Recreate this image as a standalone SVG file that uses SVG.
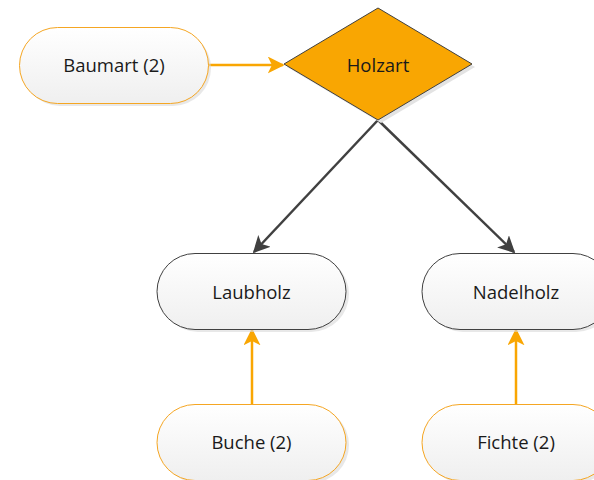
<svg xmlns="http://www.w3.org/2000/svg" width="594" height="480" viewBox="0 0 594 480">
<defs>
<linearGradient id="g" x1="0" y1="0" x2="0" y2="1">
<stop offset="0" stop-color="#ffffff"/>
<stop offset="1" stop-color="#efefef"/>
</linearGradient>
<marker id="ao" viewBox="0 0 10 10" refX="9" refY="5" markerWidth="17" markerHeight="17" orient="auto" markerUnits="userSpaceOnUse">
<path d="M0,0 L10,5 L0,10 L2.5,5 z" fill="#F9A602"/>
</marker>
<marker id="ad" viewBox="0 0 10 10" refX="9" refY="5" markerWidth="17" markerHeight="17" orient="auto" markerUnits="userSpaceOnUse">
<path d="M0,0 L10,5 L0,10 L2.5,5 z" fill="#404040"/>
</marker>
</defs>
<style>
.sh{fill:#d9d9d9;opacity:0.6}
.no{fill:url(#g);stroke:#F5A623;stroke-width:1}
.nd{fill:url(#g);stroke:#404040;stroke-width:1}
.t{font-family:"Open Sans","Liberation Sans",Arial,sans-serif;font-size:18.5px;fill:#1a1a1a;text-anchor:middle;dominant-baseline:central}
.co{stroke:#F9A602;stroke-width:2.5;fill:none}
.cd{stroke:#404040;stroke-width:2.5;fill:none}
</style>
<g id="connectors">
<line class="co" x1="208" y1="65" x2="283" y2="65" marker-end="url(#ao)"/>
<line class="cd" x1="378" y1="120" x2="254" y2="252" marker-end="url(#ad)"/>
<line class="cd" x1="378" y1="120" x2="514" y2="252" marker-end="url(#ad)"/>
<line class="co" x1="252" y1="404" x2="252" y2="330" marker-end="url(#ao)"/>
<line class="co" x1="516" y1="404" x2="516" y2="330" marker-end="url(#ao)"/>
</g>
<g id="baumart">
<rect class="sh" x="22" y="30" width="189" height="76" rx="38"/>
<rect class="no" x="19.5" y="27.5" width="189" height="76" rx="38"/>
<text class="t" x="114" y="64">Baumart (2)</text>
</g>
<g id="holzart">
<polygon points="381,11 475,67 381,123 287,67" fill="#e3e3e3"/>
<polygon points="378,8 472,64 378,120 284,64" fill="#F9A602" stroke="#404040" stroke-width="1"/>
<text class="t" x="378" y="64">Holzart</text>
</g>
<g id="laubholz">
<rect class="sh" x="160" y="256" width="189" height="76" rx="38"/>
<rect class="nd" x="157" y="253.5" width="189" height="76" rx="38"/>
<text class="t" x="251.5" y="291">Laubholz</text>
</g>
<g id="nadelholz">
<rect class="sh" x="425" y="256" width="189" height="76" rx="38"/>
<rect class="nd" x="422" y="253.5" width="189" height="76" rx="38"/>
<text class="t" x="516" y="291">Nadelholz</text>
</g>
<g id="buche">
<rect class="sh" x="160" y="407" width="189" height="76" rx="38"/>
<rect class="no" x="157" y="404.5" width="189" height="76" rx="38"/>
<text class="t" x="251.5" y="441">Buche (2)</text>
</g>
<g id="fichte">
<rect class="sh" x="425" y="407" width="189" height="76" rx="38"/>
<rect class="no" x="422" y="404.5" width="189" height="76" rx="38"/>
<text class="t" x="516" y="441">Fichte (2)</text>
</g>
</svg>
